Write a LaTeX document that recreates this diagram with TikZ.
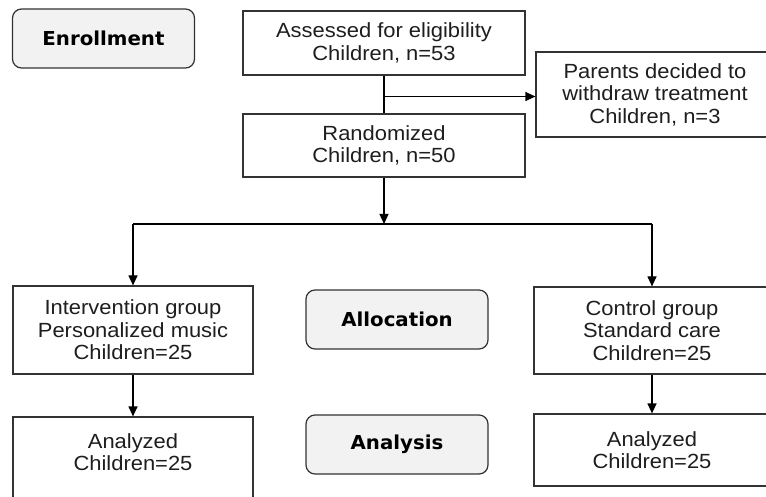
\documentclass[tikz,border=0pt]{standalone}
\usepackage{fontspec}
\setmainfont{Liberation Sans}
\newfontfamily\boxfont{Liberation Sans}[FakeStretch=1.07]
\newfontfamily\lblfont{DejaVu Sans}[FakeStretch=1.03]
\usetikzlibrary{arrows.meta}
\definecolor{lineclr}{HTML}{333333}
\definecolor{txtclr}{HTML}{1E1E1E}
\definecolor{stagefill}{HTML}{F2F2F2}
\tikzset{
  flowbox/.style={draw=lineclr, line width=1.2pt, rectangle, inner sep=0pt, align=center,
    text=txtclr, font=\boxfont\fontsize{20.5}{22.5}\selectfont},
  stagebox/.style={draw=lineclr, line width=1.2pt, rectangle, rounded corners=9pt, fill=stagefill,
    inner sep=0pt, text=black, font=\lblfont\bfseries\fontsize{19.2}{22}\selectfont,
    minimum width=182pt, minimum height=59pt},
  plaintxt/.style={inner sep=0pt, align=center, text=txtclr, font=\boxfont\fontsize{20.5}{22.5}\selectfont},
  conn/.style={draw=black, line width=1.2pt},
  arr/.style={conn, -{Triangle[length=10pt,width=9pt]}}
}
\begin{document}
\begin{tikzpicture}[x=1pt,y=-1pt]
\useasboundingbox (0,0) rectangle (766,497);
\clip (0,0) rectangle (766,497);
\fill[white] (0,0) rectangle (766,497);
% stage labels
\node[stagebox] (enr) at (103.5,38.5) {Enrollment};
\node[stagebox] (alloc) at (397,319.5) {Allocation};
\node[stagebox] (anal) at (397,444.5) {Analysis};
% flow boxes
\node[flowbox, minimum width=282pt, minimum height=64pt] (ass) at (384,43) {Assessed for eligibility\\Children, n=53};
\node[flowbox, minimum width=238pt, minimum height=85pt] (par) at (655,94.5) {Parents decided to\\withdraw treatment\\Children, n=3};
\node[flowbox, minimum width=282pt, minimum height=63pt] (rand) at (384,145.5) {Randomized\\Children, n=50};
\node[flowbox, minimum width=240pt, minimum height=88pt] (int) at (133,330) {Intervention group\\Personalized music\\Children=25};
\node[flowbox, minimum width=236pt, minimum height=87pt] (ctrl) at (652,330.5) {Control group\\Standard care\\Children=25};
\node[flowbox, minimum width=240pt, minimum height=100pt] (an1) at (133,467) {};
\node[plaintxt] (an1t) at (133,452) {Analyzed\\Children=25};
\node[flowbox, minimum width=236pt, minimum height=72pt] (an2) at (652,450) {Analyzed\\Children=25};
% connectors
\coordinate (br) at (384,96.5);
\coordinate (split) at (384,224);
\draw[conn] (ass.south) -- (rand.north);
\draw[arr] (br) -- (br -| par.west);
\draw[arr] (rand.south) -- (split);
\draw[conn] (split -| int.north) -- (split -| ctrl.north);
\draw[arr] (split -| int.north) -- (int.north);
\draw[arr] (split -| ctrl.north) -- (ctrl.north);
\draw[arr] (int.south) -- (an1.north);
\draw[arr] (ctrl.south) -- (an2.north);
\end{tikzpicture}
\end{document}
